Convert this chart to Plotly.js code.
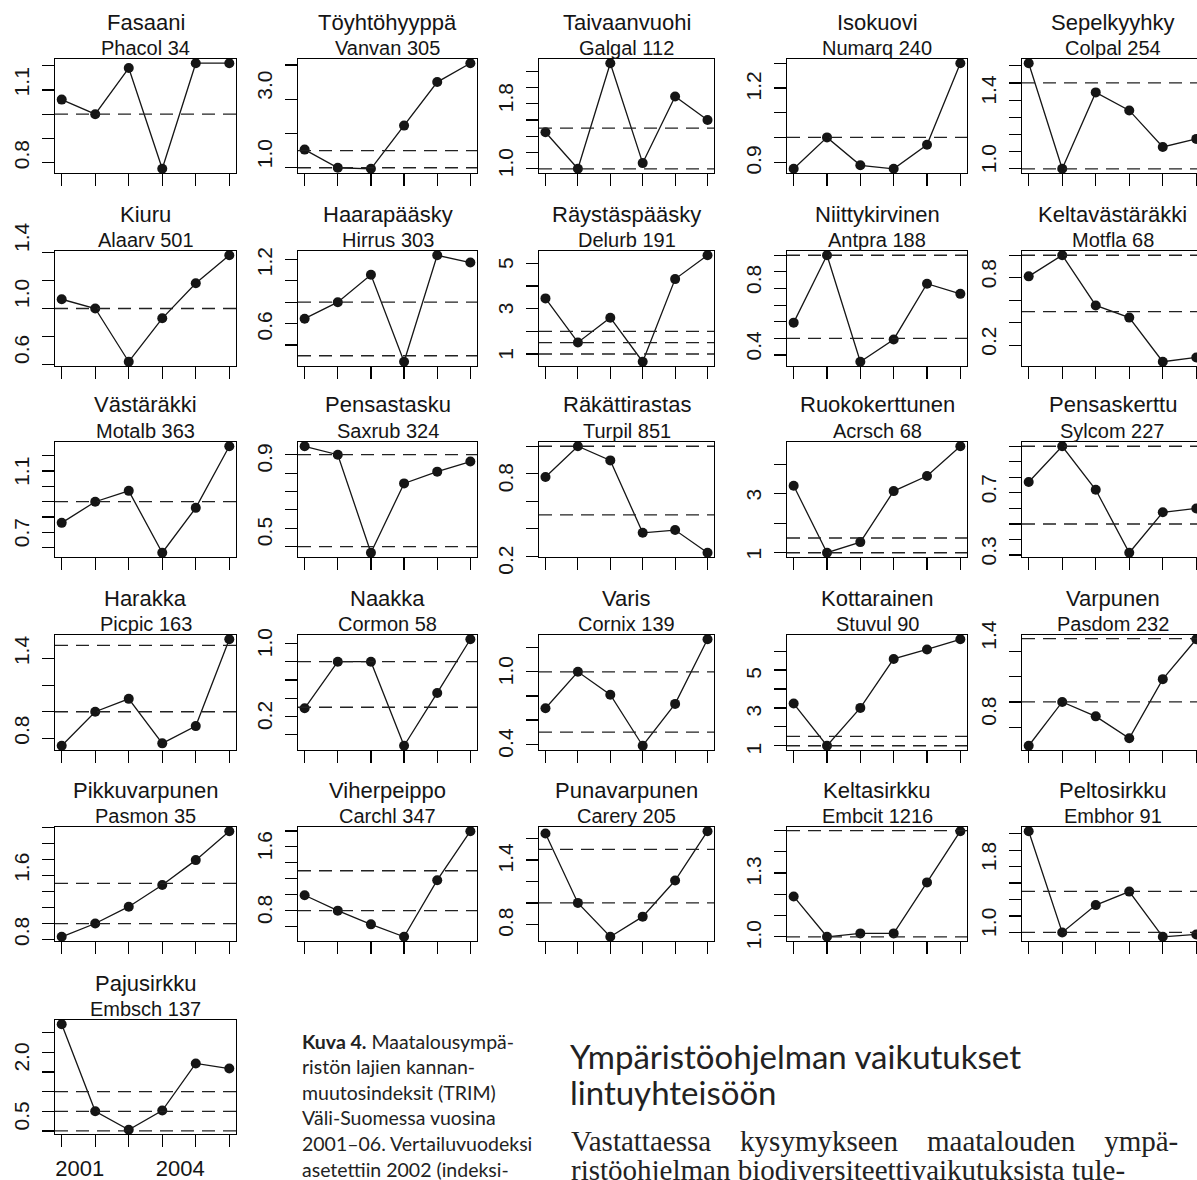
<!DOCTYPE html>
<html><head><meta charset="utf-8">
<script src="https://cdn.plot.ly/plotly-3.0.1.min.js"></script>
<style>html,body{margin:0;padding:0;background:#fff;overflow:hidden;width:1197px;height:1180px}#chart{width:1210px;height:1180px}</style>
</head><body><div id="chart"></div>
<script>
const years = [2001, 2002, 2003, 2004, 2005, 2006];
const xTickLabels = ["2001", "", "", "2004", "", ""];
const speciesNames = ["Fasaani","Töyhtöhyyppä","Taivaanvuohi","Isokuovi","Sepelkyyhky",
  "Kiuru","Haarapääsky","Räystäspääsky","Niittykirvinen","Keltavästäräkki",
  "Västäräkki","Pensastasku","Räkättirastas","Ruokokerttunen","Pensaskerttu",
  "Harakka","Naakka","Varis","Kottarainen","Varpunen",
  "Pikkuvarpunen","Viherpeippo","Punavarpunen","Keltasirkku","Peltosirkku",
  "Pajusirkku"];
const speciesCodes = ["Phacol 34","Vanvan 305","Galgal 112","Numarq 240","Colpal 254",
  "Alaarv 501","Hirrus 303","Delurb 191","Antpra 188","Motfla 68",
  "Motalb 363","Saxrub 324","Turpil 851","Acrsch 68","Sylcom 227",
  "Picpic 163","Cormon 58","Cornix 139","Stuvul 90","Pasdom 232",
  "Pasmon 35","Carchl 347","Carery 205","Embcit 1216","Embhor 91",
  "Embsch 137"];

// index values 2001..2006
const fasaani        = [1.06, 1.00, 1.19, 0.775, 1.21, 1.21];
const toyhtohyyppa   = [1.53, 1.00, 0.97, 2.23, 3.50, 4.05];
const taivaanvuohi   = [1.45, 1.00, 2.30, 1.07, 1.89, 1.60];
const isokuovi       = [0.873, 1.00, 0.887, 0.873, 0.97, 1.30];
const sepelkyyhky    = [1.615, 1.00, 1.445, 1.34, 1.127, 1.174];
const kiuru          = [1.066, 1.00, 0.62, 0.93, 1.18, 1.38];
const haarapaasky    = [0.846, 1.00, 1.256, 0.444, 1.438, 1.37];
const raystaspaasky  = [3.45, 1.51, 2.6, 0.66, 4.3, 5.35];
const niittykirvinen = [0.595, 1.00, 0.36, 0.494, 0.829, 0.768];
const keltavastarakki= [0.8125, 1.00, 0.554, 0.446, 0.054, 0.092];
const vastarakki     = [0.862, 1.00, 1.071, 0.667, 0.96, 1.362];
const pensastasku    = [1.046, 1.00, 0.467, 0.844, 0.908, 0.963];
const rakattirastas  = [0.776, 1.00, 0.897, 0.37, 0.39, 0.225];
const ruokokerttunen = [3.27, 1.00, 1.36, 3.09, 3.60, 4.61];
const pensaskerttu   = [0.77, 1.00, 0.72, 0.315, 0.575, 0.60];
const harakka        = [0.744, 1.00, 1.097, 0.762, 0.892, 1.546];
const naakka         = [0.489, 1.00, 1.00, 0.078, 0.657, 1.246];
const varis          = [0.698, 1.00, 0.81, 0.387, 0.734, 1.27];
const kottarainen    = [3.23, 1.00, 3.0, 5.59, 6.09, 6.63];
const varpunen       = [0.654, 1.00, 0.886, 0.713, 1.18, 1.495];
const pikkuvarpunen  = [0.835, 1.00, 1.21, 1.479, 1.79, 2.15];
const viherpeippo    = [1.193, 1.00, 0.828, 0.672, 1.382, 1.996];
const punavarpunen   = [1.647, 1.00, 0.684, 0.872, 1.209, 1.669];
const keltasirkku    = [1.19, 1.00, 1.016, 1.016, 1.256, 1.497];
const peltosirkku    = [2.23, 1.00, 1.332, 1.496, 0.947, 0.975];
const pajusirkku     = [3.22, 1.00, 0.53, 1.02, 2.22, 2.09];

const indexSeries = [fasaani, toyhtohyyppa, taivaanvuohi, isokuovi, sepelkyyhky,
  kiuru, haarapaasky, raystaspaasky, niittykirvinen, keltavastarakki,
  vastarakki, pensastasku, rakattirastas, ruokokerttunen, pensaskerttu,
  harakka, naakka, varis, kottarainen, varpunen,
  pikkuvarpunen, viherpeippo, punavarpunen, keltasirkku, peltosirkku,
  pajusirkku];

// dashed reference levels per panel
const refLines = [[1.0], [1.0, 1.5], [1.0, 1.5], [1.0], [1.0, 1.5],
  [1.0], [0.5, 1.0], [1.0, 1.5, 2.0], [0.5, 1.0], [0.5, 1.0],
  [1.0], [0.5, 1.0], [0.5, 1.0], [1.0, 1.5], [0.5, 1.0],
  [1.0, 1.5], [0.5, 1.0], [0.5, 1.0], [1.0, 1.5], [1.0, 1.5],
  [1.0, 1.5], [1.0, 1.5], [1.0, 1.5], [1.0, 1.5], [1.0, 1.5],
  [0.5, 1.0, 1.5]];
// y tick step and labelled ticks per panel
const tickSteps = [0.1, 1, 0.2, 0.1, 0.1,
  0.2, 0.2, 1, 0.1, 0.2,
  0.1, 0.1, 0.2, 1, 0.1,
  0.2, 0.2, 0.2, 1, 0.2,
  0.2, 0.2, 0.2, 0.1, 0.2,
  0.5];
const tickLabels = [["0.8","1.1"], ["1.0","3.0"], ["1.0","1.8"], ["0.9","1.2"], ["1.0","1.4"],
  ["0.6","1.0","1.4"], ["0.6","1.2"], ["1","3","5"], ["0.4","0.8"], ["0.2","0.8"],
  ["0.7","1.1"], ["0.5","0.9"], ["0.2","0.8"], ["1","3"], ["0.3","0.7"],
  ["0.8","1.4"], ["0.2","1.0"], ["0.4","1.0"], ["1","3","5"], ["0.8","1.4"],
  ["0.8","1.6"], ["0.8","1.6"], ["0.8","1.4"], ["1.0","1.3"], ["1.0","1.8"],
  ["0.5","2.0"]];

// page geometry and label offsets (px)
const W = 1210, H = 1180;
const colLeft = [55, 298, 539, 787, 1022];
const colRight = [236, 477, 714, 967, 1203];
const rowTop = [59, 251, 442, 635, 827, 1020];
const rowBottom = [173, 366, 557, 750, 941, 1134];
const labelShift = [-5, -11, -3, 1, -7,
  -12, -16, 3, -6, -1,
  -12, -12, 7, 4, -1,
  -5, -16, 2, 6, -13,
  -5, -14, 1, 1, -7,
  -12];

const ink = '#151515';
const tickFont = 'Liberation Sans Narrow, Liberation Sans, Arial';
const data = [], shapes = [], annotations = [];
const layout = {width: W, height: H, margin: {l:0, r:0, t:0, b:0}, showlegend: false,
  paper_bgcolor: '#fff', plot_bgcolor: 'rgba(0,0,0,0)', font: {family: 'Liberation Sans, Arial, sans-serif', color: ink}};

indexSeries.forEach((vals, i) => {
  const n = i + 1;
  const r = Math.floor(i / 5), c = i % 5;
  const xs = n === 1 ? '' : String(n);
  const lo = Math.min(...vals), hi = Math.max(...vals), d = hi - lo;
  const range = [lo - 0.04 * d, hi + 0.04 * d];
  const step = tickSteps[i];
  const tv = [], tt = [];
  for (let k = Math.ceil(range[0] / step - 1e-9); k * step <= range[1] + 1e-9; k++) {
    const v = Math.round(k * step * 1000) / 1000;
    tv.push(v);
    const lab = tickLabels[i].find(s => Math.abs(parseFloat(s) - v) < 1e-6);
    tt.push(lab || '');
  }
  data.push({x: years, y: vals, xaxis: 'x' + xs, yaxis: 'y' + xs, type: 'scatter', mode: 'lines+markers',
    line: {color: ink, width: 1.3}, marker: {color: ink, size: 10}, hoverinfo: 'skip'});
  const xd = [colLeft[c] / W, colRight[c] / W];
  const yd = [1 - rowBottom[r] / H, 1 - rowTop[r] / H];
  layout['xaxis' + xs] = {domain: xd, anchor: 'y' + xs, range: [2000.8, 2006.2], tickvals: years,
    ticktext: xTickLabels, showticklabels: n === 26, ticks: 'outside', ticklen: 12, tickwidth: 1.2, tickcolor: '#000',
    showline: true, linecolor: '#000', linewidth: 1.3, mirror: true, showgrid: false, zeroline: false,
    ticklabelshift: 18, ticklabelstandoff: 2,
    tickfont: {family: tickFont, size: 22, color: ink}, fixedrange: true};
  layout['yaxis' + xs] = {domain: yd, anchor: 'x' + xs, range: range, tickvals: tv, ticktext: tt,
    ticks: 'outside', ticklen: 12, tickwidth: 1.2, tickcolor: '#000', tickangle: -90,
    showline: true, linecolor: '#000', linewidth: 1.3, mirror: true, showgrid: false, zeroline: false,
    ticklabelshift: labelShift[i], ticklabelstandoff: 4,
    tickfont: {family: tickFont, size: 21, color: ink}, fixedrange: true};
  refLines[i].forEach(v => {
    shapes.push({type: 'line', xref: 'x' + xs + ' domain', yref: 'y' + xs, x0: 0, x1: 1, y0: v, y1: v,
      line: {color: '#222', width: 1.3, dash: '13px,8px'}});
  });
  const cx = (colLeft[c] + colRight[c]) / 2 / W;
  annotations.push({xref: 'paper', yref: 'paper', x: cx, y: 1 - (rowTop[r] - 37) / H, xanchor: 'center', yanchor: 'middle',
    text: speciesNames[i], showarrow: false, font: {size: 22, color: ink}});
  annotations.push({xref: 'paper', yref: 'paper', x: cx, y: 1 - (rowTop[r] - 11) / H, xanchor: 'center', yanchor: 'middle',
    text: speciesCodes[i], showarrow: false, font: {size: 20, color: ink}});
});

// caption and article text
const captionLines = ["<b>Kuva 4.</b> Maatalousympä-", "ristön lajien kannan-", "muutosindeksit (TRIM)",
  "Väli-Suomessa vuosina", "2001–06. Vertailuvuodeksi", "asetettiin 2002 (indeksi-"];
captionLines.forEach((t, k) => annotations.push({xref: 'paper', yref: 'paper', x: 300 / W, y: 1 - (1041 + 25.6 * k) / H,
  xanchor: 'left', yanchor: 'middle', text: t, showarrow: false, font: {family: 'Lato, Open Sans, sans-serif', size: 19.5, color: '#222'}}));
const headingLines = ["Ympäristöohjelman vaikutukset", "lintuyhteisöön"];
headingLines.forEach((t, k) => annotations.push({xref: 'paper', yref: 'paper', x: 568 / W, y: 1 - (1056 + 36 * k) / H,
  xanchor: 'left', yanchor: 'middle', text: t, showarrow: false, font: {family: 'Lato, Open Sans, sans-serif', size: 33, color: '#222'}}));
const bodyLines = ["Vastattaessa&nbsp;&nbsp;&nbsp; kysymykseen&nbsp;&nbsp;&nbsp; maatalouden&nbsp;&nbsp;&nbsp; ympä-",
  "ristöohjelman biodiversiteettivaikutuksista tule-"];
bodyLines.forEach((t, k) => annotations.push({xref: 'paper', yref: 'paper', x: 569 / W, y: 1 - (1141 + 29 * k) / H,
  xanchor: 'left', yanchor: 'middle', text: t, showarrow: false, font: {family: 'Liberation Serif, DejaVu Serif, serif', size: 29, color: '#222'}}));

layout.shapes = shapes;
layout.annotations = annotations;
Plotly.newPlot('chart', data, layout, {staticPlot: true, displayModeBar: false});
</script></body></html>
